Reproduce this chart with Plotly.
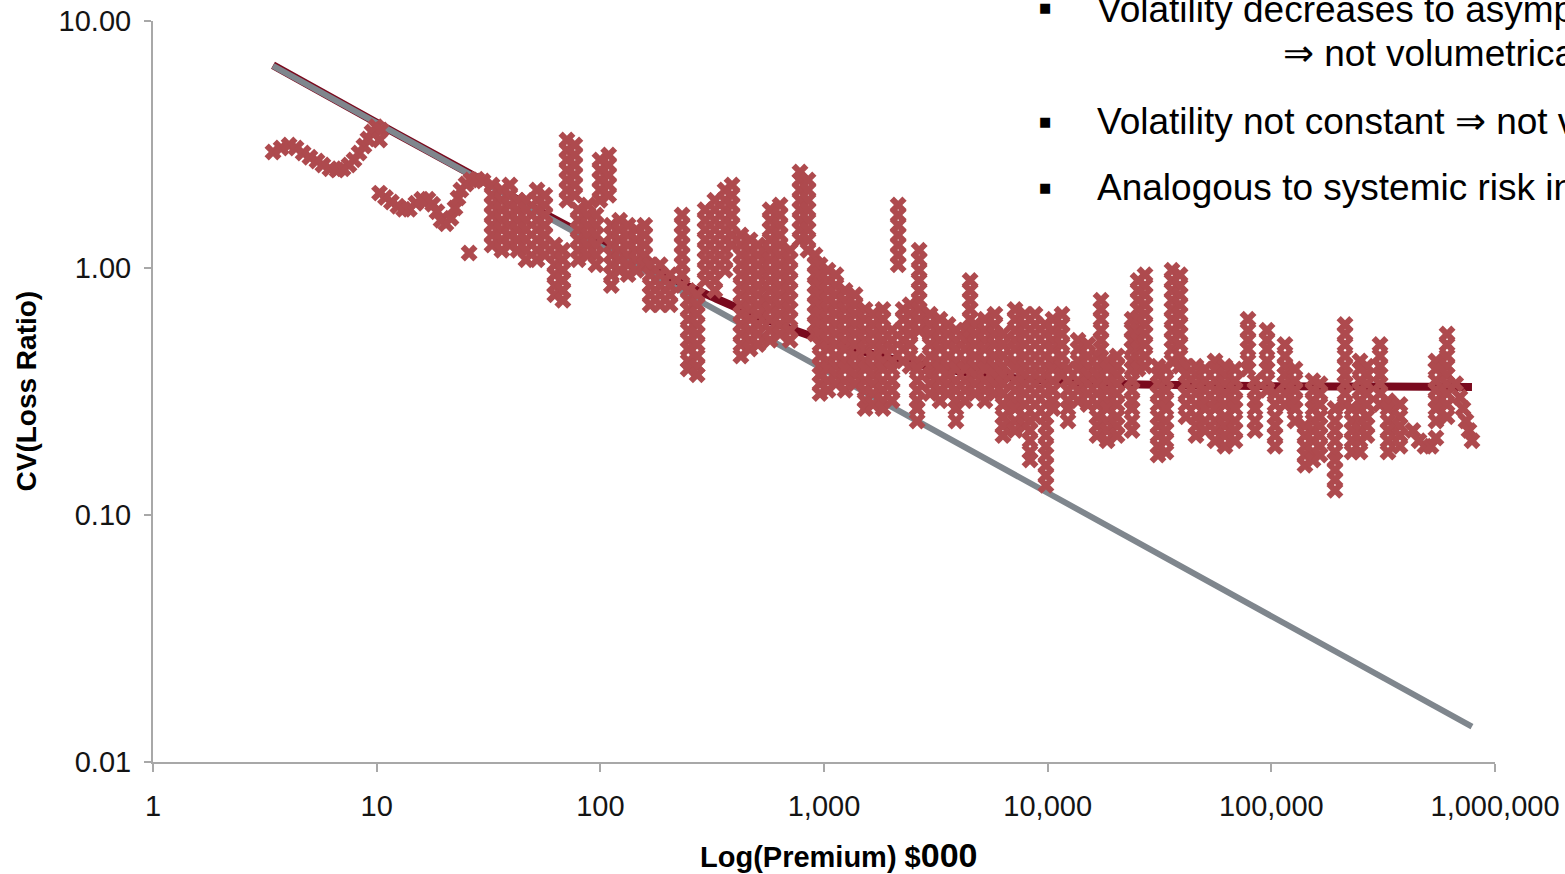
import plotly.graph_objects as go

# ---------------- data ----------------
# each entry: (premium $000, [CV(loss ratio) values observed at that premium])
streaks_1_10 = [
    (3.44, [2.95]), (3.74, [3.06]), (4.06, [3.15]), (4.36, [3.06]), (4.69, [2.92]),
    (5.03, [2.81]), (5.41, [2.71]), (5.75, [2.61]), (6.18, [2.52]), (6.65, [2.49]),
    (7.07, [2.52]), (7.52, [2.61]), (7.92, [2.74]), (8.34, [2.92]), (8.77, [3.12]),
    (9.14, [3.33]), (9.53, [3.55]), (9.93, [3.73]),
]
streaks_10_100 = [
    (10.45, [3.62]), (10.3, [3.30]),
    (10.3, [2.01]), (10.95, [1.93]), (11.64, [1.85]), (12.44, [1.78]), (13.2, [1.73]),
    (14.0, [1.73]), (14.97, [1.83]), (15.9, [1.90]), (16.95, [1.90]), (17.8, [1.81]),
    (18.6, [1.69]), (19.4, [1.56]), (20.4, [1.51]), (21.5, [1.59]), (22.4, [1.75]),
    (23.1, [1.92]), (23.8, [2.07]), (25.1, [2.19]), (26.4, [2.27]), (28.1, [2.29]),
    (29.9, [2.25]), (25.9, [1.15]),
    (32.8, [2.17, 1.97, 1.80, 1.64, 1.49, 1.36, 1.24]),
    (36.3, [2.07, 1.88, 1.72, 1.56, 1.43, 1.30, 1.18]),
    (39.4, [2.17, 1.97, 1.80, 1.64, 1.49, 1.36, 1.24]),
    (42.8, [1.88, 1.72, 1.56, 1.43, 1.30, 1.18]),
    (46.5, [1.88, 1.72, 1.56, 1.43, 1.30, 1.18, 1.08]),
    (52.1, [2.07, 1.88, 1.72, 1.56, 1.43, 1.30, 1.18, 1.08]),
    (56.5, [1.97, 1.80, 1.64, 1.49, 1.36, 1.24, 1.13]),
    (62.6, [1.24, 1.13, 1.03, 0.94, 0.85, 0.78]),
    (68.0, [1.18, 1.08, 0.98, 0.89, 0.81, 0.74]),
    (70.9, [3.30, 3.00, 2.74, 2.49, 2.27, 2.07, 1.88]),
    (76.9, [3.15, 2.87, 2.61, 2.38, 2.17, 1.97]),
    (79.5, [1.72, 1.56, 1.43, 1.30, 1.18, 1.08]),
    (88.1, [1.80, 1.64, 1.49, 1.36, 1.24, 1.13]),
    (95.6, [1.64, 1.49, 1.36, 1.24, 1.13, 1.03]),
    (99.6, [2.74, 2.49, 2.27, 2.07, 1.88]),
]
streaks_100_1k = [
    (109, [2.87, 2.61, 2.38, 2.17, 1.97]),
    (112, [1.49, 1.36, 1.24, 1.13, 1.03, 0.94, 0.85]),
    (122, [1.56, 1.43, 1.30, 1.18, 1.08, 0.98]),
    (133, [1.49, 1.36, 1.24, 1.13, 1.03, 0.94]),
    (145, [1.43, 1.30, 1.18, 1.08, 0.98]),
    (158, [1.49, 1.36, 1.24, 1.13, 1.03]),
    (167, [1.03, 0.94, 0.85, 0.78, 0.71]),
    (185, [1.03, 0.94, 0.85, 0.78, 0.71]),
    (205, [0.94, 0.85, 0.78, 0.71]),
    (232, [1.64, 1.49, 1.36, 1.24, 1.13, 1.03, 0.94, 0.85]),
    (247, [0.81, 0.74, 0.68, 0.62, 0.56, 0.51, 0.47, 0.42, 0.39]),
    (271, [0.78, 0.71, 0.65, 0.59, 0.54, 0.49, 0.44, 0.40, 0.37]),
    (294, [1.72, 1.56, 1.43, 1.30, 1.18, 1.08, 0.98, 0.89]),
    (325, [1.88, 1.72, 1.56, 1.43, 1.30, 1.18, 1.08, 0.98, 0.89, 0.81]),
    (361, [2.07, 1.88, 1.72, 1.56, 1.43, 1.30, 1.18, 1.08, 0.98]),
    (388, [2.17, 1.97, 1.80, 1.64, 1.49, 1.36, 1.24]),
    (425, [1.36, 1.24, 1.13, 1.03, 0.94, 0.85, 0.78, 0.71, 0.65, 0.59, 0.54, 0.49, 0.44]),
    (467, [1.30, 1.18, 1.08, 0.98, 0.89, 0.81, 0.74, 0.68, 0.62, 0.56, 0.51, 0.47]),
    (507, [1.24, 1.13, 1.03, 0.94, 0.85, 0.78, 0.71, 0.65, 0.59, 0.54, 0.49]),
    (574, [1.72, 1.56, 1.43, 1.30, 1.18, 1.08, 0.98, 0.89, 0.81, 0.74, 0.68, 0.62, 0.56, 0.51]),
    (636, [1.80, 1.64, 1.49, 1.36, 1.24, 1.13, 1.03, 0.94, 0.85, 0.78, 0.71, 0.65, 0.59, 0.54]),
    (705, [1.18, 1.08, 0.98, 0.89, 0.81, 0.74, 0.68, 0.62, 0.56, 0.51]),
    (781, [2.45, 2.27, 2.07, 1.88, 1.72, 1.56, 1.43, 1.30]),
    (848, [2.27, 2.07, 1.88, 1.72, 1.56, 1.43, 1.30, 1.18]),
    (912, [1.13, 1.03, 0.94, 0.85, 0.78, 0.71, 0.65, 0.59, 0.54]),
    (960, [1.03, 0.94, 0.85, 0.78, 0.71, 0.65, 0.59, 0.54, 0.49, 0.44, 0.40, 0.37, 0.34, 0.31]),
]
streaks_1k_10k = [
    (1042, [0.98, 0.89, 0.81, 0.74, 0.68, 0.62, 0.56, 0.51, 0.47, 0.42, 0.39, 0.35, 0.32]),
    (1131, [0.94, 0.85, 0.78, 0.71, 0.65, 0.59, 0.54, 0.49, 0.44, 0.40, 0.37, 0.34]),
    (1242, [0.81, 0.74, 0.68, 0.62, 0.56, 0.51, 0.47, 0.42, 0.39, 0.35, 0.32]),
    (1377, [0.78, 0.71, 0.65, 0.59, 0.54, 0.49, 0.44, 0.40, 0.37, 0.34]),
    (1526, [0.68, 0.62, 0.56, 0.51, 0.47, 0.42, 0.39, 0.35, 0.32, 0.29, 0.27]),
    (1657, [0.65, 0.59, 0.54, 0.49, 0.44, 0.40, 0.37, 0.34, 0.31, 0.28]),
    (1835, [0.68, 0.62, 0.56, 0.51, 0.47, 0.42, 0.39, 0.35, 0.32, 0.29, 0.27]),
    (2016, [0.56, 0.51, 0.47, 0.42, 0.39, 0.35, 0.32, 0.29]),
    (2146, [1.80, 1.64, 1.49, 1.36, 1.24, 1.13, 1.03]),
    (2258, [0.68, 0.62, 0.56, 0.51, 0.47, 0.42]),
    (2425, [0.71, 0.65, 0.59, 0.54, 0.49, 0.44, 0.40]),
    (2609, [0.42, 0.39, 0.35, 0.32, 0.29, 0.27, 0.24]),
    (2663, [1.18, 1.08, 0.98, 0.89, 0.81, 0.74, 0.68, 0.62, 0.56]),
    (2980, [0.65, 0.59, 0.54, 0.49, 0.44, 0.40, 0.37, 0.34, 0.31]),
    (3300, [0.62, 0.56, 0.51, 0.47, 0.42, 0.39, 0.35, 0.32, 0.29]),
    (3586, [0.59, 0.54, 0.49, 0.44, 0.40, 0.37, 0.34, 0.31]),
    (3890, [0.56, 0.51, 0.47, 0.42, 0.39, 0.35, 0.32, 0.29, 0.27, 0.24]),
    (4274, [0.56, 0.51, 0.47, 0.42, 0.39, 0.35, 0.32, 0.29]),
    (4500, [0.89, 0.81, 0.74, 0.68, 0.62, 0.56]),
    (4737, [0.59, 0.54, 0.49, 0.44, 0.40, 0.37, 0.34, 0.31]),
    (5242, [0.62, 0.56, 0.51, 0.47, 0.42, 0.39, 0.35, 0.32, 0.29]),
    (5810, [0.65, 0.59, 0.54, 0.49, 0.44, 0.40, 0.37, 0.34, 0.31]),
    (6310, [0.54, 0.49, 0.44, 0.40, 0.37, 0.34, 0.31, 0.28, 0.25, 0.23, 0.21]),
    (7147, [0.68, 0.62, 0.56, 0.51, 0.47, 0.42, 0.39, 0.35, 0.32, 0.29, 0.27, 0.24, 0.22]),
    (7915, [0.65, 0.59, 0.54, 0.49, 0.44, 0.40, 0.37, 0.34, 0.31, 0.28, 0.25, 0.23]),
    (8340, [0.24, 0.22, 0.20, 0.18, 0.167]),
    (8779, [0.65, 0.59, 0.54, 0.49, 0.44, 0.40, 0.37, 0.34, 0.31, 0.28, 0.25]),
    (9740, [0.59, 0.54, 0.49, 0.44, 0.40, 0.37, 0.34, 0.31]),
    (9822, [0.28, 0.25, 0.23, 0.21, 0.19, 0.175, 0.159, 0.145, 0.132]),
]
streaks_10k_100k = [
    (10560, [0.62, 0.56, 0.51, 0.47, 0.42, 0.39, 0.35, 0.32, 0.29, 0.27]),
    (11590, [0.65, 0.59, 0.54, 0.49, 0.44, 0.40, 0.37]),
    (12320, [0.39, 0.35, 0.32, 0.29, 0.27, 0.24]),
    (13670, [0.51, 0.47, 0.42, 0.39, 0.35, 0.32, 0.29]),
    (15150, [0.49, 0.44, 0.40, 0.37, 0.34, 0.31, 0.28]),
    (16620, [0.44, 0.40, 0.37, 0.34, 0.31, 0.28, 0.25, 0.23, 0.21]),
    (17320, [0.74, 0.68, 0.62, 0.56, 0.51, 0.47]),
    (18430, [0.42, 0.39, 0.35, 0.32, 0.29, 0.27, 0.24, 0.22, 0.20]),
    (20430, [0.44, 0.40, 0.37, 0.34, 0.31, 0.28, 0.25, 0.23, 0.21]),
    (23830, [0.62, 0.56, 0.51, 0.47, 0.42, 0.39, 0.35, 0.32, 0.29, 0.27, 0.24, 0.22]),
    (25360, [0.89, 0.81, 0.74, 0.68, 0.62, 0.56, 0.51, 0.47, 0.42, 0.39]),
    (27240, [0.94, 0.85, 0.78, 0.71, 0.65, 0.59, 0.54, 0.49, 0.44, 0.40]),
    (31140, [0.40, 0.37, 0.34, 0.31, 0.28, 0.25, 0.23, 0.21, 0.19, 0.175]),
    (33790, [0.39, 0.35, 0.32, 0.29, 0.27, 0.24, 0.22, 0.20, 0.18]),
    (35970, [0.98, 0.89, 0.81, 0.74, 0.68, 0.62, 0.56, 0.51, 0.47, 0.42]),
    (39060, [0.94, 0.85, 0.78, 0.71, 0.65, 0.59, 0.54, 0.49, 0.44, 0.40]),
    (41520, [0.40, 0.37, 0.34, 0.31, 0.28, 0.25]),
    (46030, [0.40, 0.37, 0.34, 0.31, 0.28, 0.25, 0.23, 0.21]),
    (50520, [0.39, 0.35, 0.32, 0.29, 0.27, 0.24, 0.22]),
    (56000, [0.42, 0.39, 0.35, 0.32, 0.29, 0.27, 0.24, 0.22, 0.20]),
    (62060, [0.40, 0.37, 0.34, 0.31, 0.28, 0.25, 0.23, 0.21, 0.19]),
    (68790, [0.39, 0.35, 0.32, 0.29, 0.27, 0.24, 0.22, 0.20]),
    (78630, [0.62, 0.56, 0.51, 0.47, 0.42, 0.39]),
    (84520, [0.35, 0.32, 0.29, 0.27, 0.24, 0.22]),
    (95650, [0.56, 0.51, 0.47, 0.42, 0.39, 0.35, 0.32]),
]
streaks_100k_1m = [
    (103850, [0.31, 0.28, 0.25, 0.23, 0.21, 0.19]),
    (115050, [0.49, 0.44, 0.40, 0.37, 0.34, 0.31, 0.28]),
    (127600, [0.39, 0.35, 0.32, 0.29, 0.27, 0.24]),
    (141400, [0.23, 0.21, 0.19, 0.175, 0.159]),
    (153500, [0.35, 0.32, 0.29, 0.27, 0.24, 0.22, 0.20, 0.18, 0.167]),
    (165000, [0.34, 0.31, 0.28, 0.25, 0.23, 0.21, 0.19, 0.175]),
    (192500, [0.27, 0.24, 0.22, 0.20, 0.18, 0.167, 0.152, 0.139, 0.126]),
    (213500, [0.59, 0.54, 0.49, 0.44, 0.40, 0.37, 0.34, 0.31, 0.28]),
    (229500, [0.27, 0.24, 0.22, 0.20, 0.18]),
    (249100, [0.42, 0.39, 0.35, 0.32, 0.29, 0.27, 0.24, 0.22, 0.20, 0.18]),
    (267700, [0.40, 0.37, 0.34, 0.31, 0.28, 0.25, 0.23, 0.21]),
    (306100, [0.49, 0.44, 0.40, 0.37, 0.34, 0.31, 0.28]),
    (332300, [0.29, 0.27, 0.24, 0.22, 0.20, 0.18]),
    (376000, [0.28, 0.25, 0.23, 0.21, 0.19]),
    (429700, [0.22]), (457300, [0.20]), (486300, [0.19]), (517400, [0.19]), (544400, [0.205]),
    (544400, [0.42, 0.39, 0.35, 0.32, 0.29, 0.27, 0.24]),
    (610400, [0.54, 0.49, 0.44, 0.40, 0.37, 0.34, 0.31, 0.28, 0.25]),
    (667000, [0.34]), (697000, [0.30]), (719000, [0.27]), (742000, [0.24]),
    (765000, [0.22]), (789000, [0.20]),
]

# volumetric (independent) CV line: straight on log-log axes
indep_premium = [3.44, 789000]
indep_cv = [6.58, 0.0139]

# fitted CV with a systemic floor
fit_premium = [3.44, 10, 30, 100, 200, 300, 500, 1000, 2000, 3000, 5000,
               10000, 20000, 50000, 100000, 300000, 789000]
fit_cv = [6.62, 3.87, 2.25, 1.26, 0.92, 0.78, 0.64, 0.51, 0.43, 0.40, 0.37,
          0.35, 0.34, 0.335, 0.332, 0.331, 0.33]

x_tickvals = [1, 10, 100, 1000, 10000, 100000, 1000000]
x_ticktext = ["1", "10", "100", "1,000", "10,000", "100,000", "1,000,000"]
y_tickvals = [0.01, 0.1, 1, 10]
y_ticktext = ["0.01", "0.10", "1.00", "10.00"]

bullet_lines = [
    "Volatility decreases to asymptote",
    "Volatility not constant \u21d2 not volumetrically linear",
    "Analogous to systemic risk in finance",
]
sub_line = "\u21d2 not volumetrically diversifiable"

# ---------------- build figure ----------------
obs_x, obs_y = [], []
for group in (streaks_1_10, streaks_10_100, streaks_100_1k, streaks_1k_10k,
              streaks_10k_100k, streaks_100k_1m):
    for prem, cvs in group:
        for c in cvs:
            obs_x.append(prem)
            obs_y.append(c)

fig = go.Figure()
fig.add_trace(go.Scatter(x=fit_premium, y=fit_cv, mode="lines",
                         line=dict(color="#7A0A1E", width=8, shape="spline"),
                         hoverinfo="skip", showlegend=False))
fig.add_trace(go.Scatter(x=indep_premium, y=indep_cv, mode="lines",
                         line=dict(color="#7F868D", width=6),
                         hoverinfo="skip", showlegend=False))
fig.add_trace(go.Scatter(x=obs_x, y=obs_y, mode="markers",
                         marker=dict(symbol="x", size=15, color="#AE4A4E",
                                     line=dict(width=0)),
                         showlegend=False))

axis_col = "#A8A8A8"
tick_font = dict(family="Liberation Sans, Arial, sans-serif", size=29, color="#141414")

fig.update_xaxes(type="log", range=[0, 6], tickvals=x_tickvals, ticktext=x_ticktext,
                 ticks="outside", ticklen=8, tickwidth=2, tickcolor=axis_col,
                 showline=True, linecolor=axis_col, linewidth=2,
                 showgrid=False, zeroline=False, tickfont=tick_font,
                 ticklabelstandoff=9, automargin=False)
fig.update_yaxes(type="log", range=[-2, 1], tickvals=y_tickvals, ticktext=y_ticktext,
                 ticks="outside", ticklen=7, tickwidth=2, tickcolor=axis_col,
                 showline=True, linecolor=axis_col, linewidth=2,
                 showgrid=False, zeroline=False, tickfont=tick_font,
                 ticklabelstandoff=7, automargin=False)

L, R, T, B = 153, 70, 21, 112
W, H = 1565, 874
pw, ph = W - L - R, H - T - B

def px(xp):
    return (xp - L) / pw

def py(yp):
    return (H - B - yp) / ph

text_font = dict(family="Liberation Sans, Arial, DejaVu Sans, sans-serif", size=37, color="#000000")
annotations = [
    dict(text="<b>CV(Loss Ratio)</b>", x=px(26), y=0.5, xref="paper", yref="paper",
         textangle=-90, showarrow=False, xanchor="center", yanchor="middle",
         font=dict(family="Liberation Sans, Arial, sans-serif", size=28, color="#000")),
    dict(text="<b>Log(Premium) $<span style='font-size:34px'>000</span></b>",
         x=px(838), y=py(855), xref="paper", yref="paper", showarrow=False,
         xanchor="center", yanchor="middle",
         font=dict(family="Liberation Sans, Arial, sans-serif", size=29, color="#000")),
    dict(text=bullet_lines[0], x=px(1095), y=py(9), xref="paper", yref="paper",
         showarrow=False, xanchor="left", yanchor="middle", font=text_font),
    dict(text=sub_line, x=px(1281), y=py(54), xref="paper", yref="paper",
         showarrow=False, xanchor="left", yanchor="middle", font=text_font),
    dict(text=bullet_lines[1], x=px(1095), y=py(121), xref="paper", yref="paper",
         showarrow=False, xanchor="left", yanchor="middle", font=text_font),
    dict(text=bullet_lines[2], x=px(1095), y=py(187), xref="paper", yref="paper",
         showarrow=False, xanchor="left", yanchor="middle", font=text_font),
]
for by in (8, 121, 187):
    annotations.append(dict(text="\u25a0", x=px(1045), y=py(by), xref="paper", yref="paper",
                            showarrow=False, xanchor="center", yanchor="middle",
                            font=dict(family="DejaVu Sans", size=13, color="#000")))

fig.update_layout(width=W, height=H, margin=dict(l=L, r=R, t=T, b=B, pad=0),
                  paper_bgcolor="white", plot_bgcolor="white",
                  showlegend=False, annotations=annotations)

fig.write_html("out.html", config={"displayModeBar": False})
